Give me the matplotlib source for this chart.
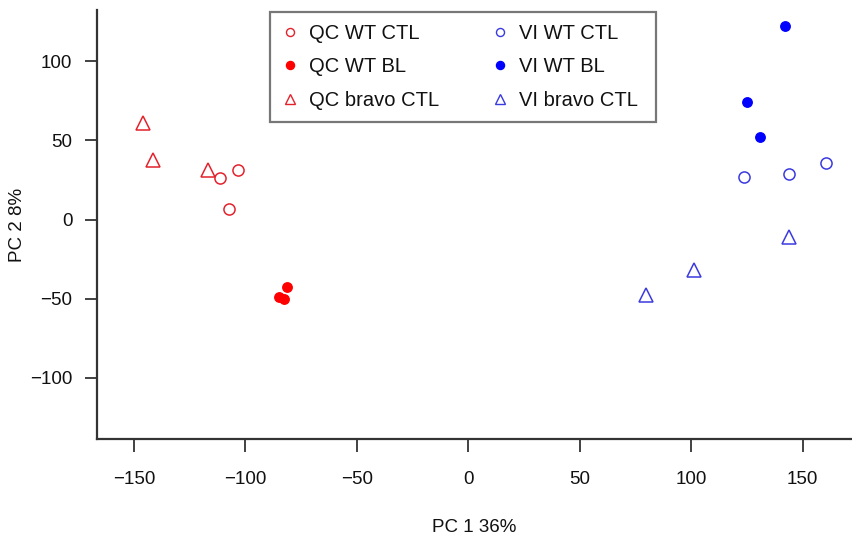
import matplotlib
matplotlib.use('Agg')
import matplotlib.pyplot as plt
from matplotlib.lines import Line2D
from matplotlib.patches import Rectangle

plt.rcParams['font.family'] = ['Liberation Sans', 'DejaVu Sans']

# PCA scores
qc_wt_ctl_x = [-111.3, -103.5, -107.5]
qc_wt_ctl_y = [26.3, 31.1, 6.7]
qc_wt_bl_x = [-84.8, -82.6, -81.2]
qc_wt_bl_y = [-48.9, -50.2, -42.4]
qc_bravo_x = [-146.1, -141.6, -116.7]
qc_bravo_y = [60.7, 37.6, 31.3]

vi_wt_ctl_x = [123.7, 143.9, 160.5]
vi_wt_ctl_y = [26.8, 28.7, 35.7]
vi_wt_bl_x = [142.1, 125.1, 130.9]
vi_wt_bl_y = [122.2, 74.2, 52.1]
vi_bravo_x = [143.9, 101.2, 79.7]
vi_bravo_y = [-11.0, -31.9, -47.7]

group_labels = ['QC WT CTL', 'QC WT BL', 'QC bravo CTL',
                'VI WT CTL', 'VI WT BL', 'VI bravo CTL']

red_open = '#E3222C'
red_fill = '#FF0000'
blue_open = '#3A3AE0'
blue_fill = '#0000FF'

W, H = 852, 538
fig = plt.figure(figsize=(W / 100, H / 100), dpi=100)
ax = fig.add_axes([97.3 / W, (H - 439.3) / H, 1 - 97.3 / W, 429.3 / H])

ax.plot(qc_wt_ctl_x, qc_wt_ctl_y, 'o', ms=8, mfc='none', mec=red_open, mew=1.1)
ax.plot(qc_wt_bl_x, qc_wt_bl_y, 'o', ms=6.8, mfc=red_fill, mec=red_fill)
ax.plot(qc_bravo_x, qc_bravo_y, '^', ms=9.5, mfc='none', mec=red_open, mew=1.1)
ax.plot(vi_wt_ctl_x, vi_wt_ctl_y, 'o', ms=8, mfc='none', mec=blue_open, mew=1.1)
ax.plot(vi_wt_bl_x, vi_wt_bl_y, 'o', ms=6.8, mfc=blue_fill, mec=blue_fill)
ax.plot(vi_bravo_x, vi_bravo_y, '^', ms=9.5, mfc='none', mec=blue_open, mew=1.1)

ax.set_xlim(-166.5, 172.2)
ax.set_ylim(-138.8, 132.3)
ax.set_xticks([-150, -100, -50, 0, 50, 100, 150])
ax.set_yticks([-100, -50, 0, 50, 100])
ax.set_xticklabels(['\u2212150', '\u2212100', '\u221250', '0', '50', '100', '150'])
ax.set_yticklabels(['\u2212100', '\u221250', '0', '50', '100'])

for s in ['top', 'right']:
    ax.spines[s].set_visible(False)
for s in ['left', 'bottom']:
    ax.spines[s].set_linewidth(1.6)
    ax.spines[s].set_color('#333333')
ax.tick_params(length=9, width=1.3, color='#333333', labelsize=13.5, labelcolor='#111111')
ax.tick_params(axis='x', pad=13.5)
ax.tick_params(axis='y', pad=9)

ax.set_xlabel('PC 1 36%', fontsize=13.5, labelpad=23, color='#111111')
ax.set_ylabel('PC 2 8%', fontsize=13.5, labelpad=3, color='#111111')

# legend frame drawn separately (R leaves more room on the right)
def fx(px):
    return (px - 97.3) / (W - 97.3)

def fy(py):
    return (439.3 - py) / 429.3

ax.add_patch(Rectangle((fx(270), fy(122)), fx(656) - fx(270), fy(12) - fy(122),
                       transform=ax.transAxes, facecolor='white',
                       edgecolor='#777777', lw=1.6, zorder=4))

handles = [
    Line2D([], [], ls='none', marker='o', ms=5.8, mfc='none', mec=red_open, mew=1.0),
    Line2D([], [], ls='none', marker='o', ms=5.8, mfc=red_fill, mec=red_fill),
    Line2D([], [], ls='none', marker='^', ms=6.8, mfc='none', mec=red_open, mew=1.0),
    Line2D([], [], ls='none', marker='o', ms=5.8, mfc='none', mec=blue_open, mew=1.0),
    Line2D([], [], ls='none', marker='o', ms=5.8, mfc=blue_fill, mec=blue_fill),
    Line2D([], [], ls='none', marker='^', ms=6.8, mfc='none', mec=blue_open, mew=1.0),
]
leg = ax.legend(handles, group_labels, ncol=2, loc='upper left', mode='expand',
                bbox_to_anchor=(fx(280), fy(24) - 0.3, fx(638) - fx(280), 0.3),
                borderaxespad=0, borderpad=0, fontsize=14.5, frameon=False,
                labelspacing=0.72, handletextpad=0.45, handlelength=1.0)
leg.set_zorder(5)
for t in leg.get_texts():
    t.set_color('#111111')

fig.savefig('out.png', dpi=100)
